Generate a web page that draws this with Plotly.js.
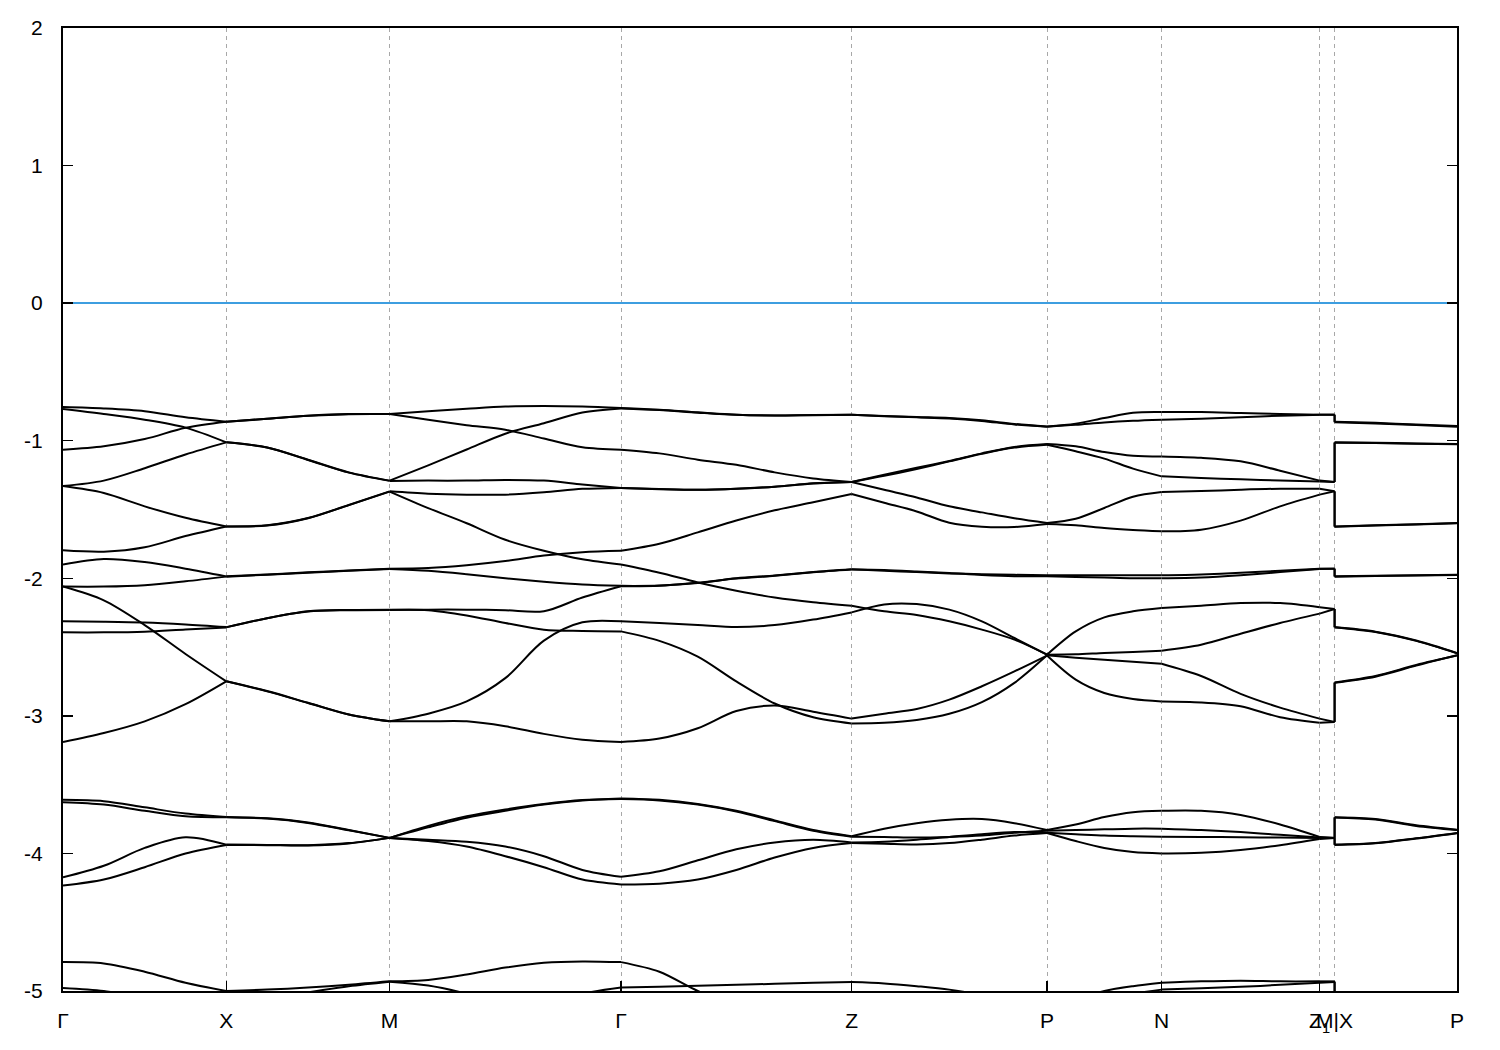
<!DOCTYPE html>
<html>
<head>
<meta charset="utf-8">
<script src="https://cdn.plot.ly/plotly-3.0.1.min.js"></script>
<style>html,body{margin:0;padding:0;background:#fff;}</style>
</head>
<body>
<div id="chart" style="width:1500px;height:1050px;"></div>
<script>
// k-path sampling (path length units); index 35 = M, index 36 = X (discontinuity M|X)
const kGrid = [0.000, 0.408, 0.817, 1.225, 1.633, 2.041, 2.450, 2.858, 3.266, 3.652,
  4.037, 4.423, 4.809, 5.194, 5.580, 5.964, 6.348, 6.733, 7.117, 7.502,
  7.886, 8.212, 8.537, 8.863, 9.189, 9.514, 9.840, 10.127, 10.413, 10.700,
  10.986, 11.381, 11.776, 12.171, 12.566, 12.716, 12.716, 13.124, 13.532, 13.940];
// segment boundaries (indices into kGrid)
const segBounds = [0, 4, 8, 14, 20, 26, 30, 34, 35, 36, 39];

const kTicks = [0.000, 1.633, 3.266, 5.580, 7.886, 9.840, 10.986, 12.566, 12.716, 13.940];
const kLabels = ['Γ', 'X', 'M', 'Γ', 'Z', 'P', 'N', 'Z<sub>1</sub>', 'M|X', 'P'];
const eTicks = [-5, -4, -3, -2, -1, 0, 1, 2];
const eTickText = ['-5', '-4', '-3', '-2', '-1', '0', '1', '2'];

// band energies (eV) at each kGrid point
const band01 = [-0.755,-0.765,-0.785,-0.830,-0.862, -0.840,-0.818,-0.806,-0.806,
  -0.786,-0.768,-0.752,-0.748,-0.752,-0.762, -0.775,-0.794,-0.811,-0.816,-0.813,-0.811,
  -0.820,-0.828,-0.835,-0.852,-0.878,-0.896, -0.876,-0.835,-0.797,-0.792,
  -0.792,-0.799,-0.806,-0.811, -0.811, -0.862,-0.870,-0.882,-0.893];
const band02 = [-0.770,-0.806,-0.847,-0.905,-1.012, -1.049,-1.138,-1.230,-1.290,
  -1.179,-1.064,-0.949,-0.873,-0.795,-0.765, -0.777,-0.796,-0.812,-0.817,-0.814,-0.812,
  -0.822,-0.830,-0.838,-0.856,-0.882,-0.898, -0.884,-0.867,-0.855,-0.847,
  -0.840,-0.830,-0.818,-0.811, -0.811, -0.866,-0.874,-0.886,-0.898];
const band03 = [-1.065,-1.040,-0.988,-0.906,-0.862, -0.841,-0.819,-0.807,-0.806,
  -0.848,-0.887,-0.920,-0.984,-1.048,-1.065, -1.092,-1.138,-1.175,-1.230,-1.274,-1.300,
  -1.248,-1.197,-1.147,-1.092,-1.045,-1.024, -1.041,-1.082,-1.109,-1.114,
  -1.124,-1.150,-1.218,-1.290, -1.300, -1.012,-1.015,-1.020,-1.024];
const band04 = [-1.330,-1.290,-1.200,-1.100,-1.012, -1.050,-1.140,-1.232,-1.292,
  -1.290,-1.290,-1.285,-1.290,-1.318,-1.343, -1.351,-1.356,-1.349,-1.334,-1.310,-1.300,
  -1.255,-1.205,-1.150,-1.095,-1.050,-1.030, -1.077,-1.130,-1.203,-1.259,
  -1.271,-1.281,-1.289,-1.296, -1.300, -1.014,-1.017,-1.022,-1.026];
const band05 = [-1.330,-1.380,-1.477,-1.560,-1.623, -1.615,-1.562,-1.467,-1.368,
  -1.385,-1.392,-1.392,-1.375,-1.350,-1.343, -1.352,-1.357,-1.350,-1.335,-1.311,-1.300,
  -1.357,-1.413,-1.477,-1.521,-1.564,-1.598, -1.567,-1.489,-1.407,-1.373,
  -1.366,-1.356,-1.349,-1.349, -1.368, -1.623,-1.615,-1.607,-1.598];
const band06 = [-1.797,-1.807,-1.775,-1.693,-1.623, -1.617,-1.564,-1.468,-1.370,
  -1.490,-1.600,-1.720,-1.800,-1.862,-1.900, -1.960,-2.030,-2.090,-2.140,-2.175,-2.200,
  -2.240,-2.267,-2.313,-2.373,-2.446,-2.555, -2.553,-2.543,-2.536,-2.526,
  -2.483,-2.403,-2.325,-2.257, -2.223, -2.357,-2.390,-2.455,-2.545];
const band07 = [-1.900,-1.860,-1.882,-1.930,-1.986, -1.972,-1.957,-1.943,-1.930,
  -1.925,-1.905,-1.875,-1.835,-1.810,-1.800, -1.749,-1.666,-1.580,-1.506,-1.447,-1.387,
  -1.451,-1.514,-1.596,-1.625,-1.627,-1.605, -1.615,-1.635,-1.649,-1.659,
  -1.647,-1.581,-1.477,-1.392, -1.368, -1.625,-1.617,-1.609,-1.600];
const band08 = [-2.060,-2.060,-2.050,-2.022,-1.988, -1.974,-1.960,-1.945,-1.932,
  -1.945,-1.970,-2.000,-2.025,-2.045,-2.055, -2.053,-2.035,-2.000,-1.980,-1.955,-1.935,
  -1.945,-1.955,-1.965,-1.970,-1.975,-1.978, -1.978,-1.978,-1.978,-1.978,
  -1.972,-1.960,-1.945,-1.930, -1.930, -1.986,-1.982,-1.978,-1.974];
const band09 = [-2.313,-2.316,-2.322,-2.336,-2.355, -2.290,-2.240,-2.230,-2.228,
  -2.228,-2.228,-2.232,-2.240,-2.140,-2.058, -2.055,-2.032,-2.002,-1.982,-1.957,-1.937,
  -1.940,-1.950,-1.962,-1.976,-1.985,-1.985, -1.990,-1.995,-2.000,-2.000,
  -1.995,-1.978,-1.955,-1.932, -1.930, -1.988,-1.984,-1.980,-1.976];
const band10 = [-2.393,-2.393,-2.388,-2.372,-2.357, -2.290,-2.242,-2.232,-2.230,
  -2.232,-2.270,-2.325,-2.374,-2.383,-2.386, -2.455,-2.570,-2.750,-2.910,-3.010,-3.055,
  -3.050,-3.030,-2.985,-2.900,-2.760,-2.560, -2.577,-2.592,-2.606,-2.621,
  -2.710,-2.840,-2.940,-3.020, -3.044, -2.757,-2.710,-2.630,-2.562];
const band11 = [-2.060,-2.160,-2.340,-2.550,-2.749, -2.822,-2.906,-2.990,-3.040,
  -2.984,-2.895,-2.726,-2.453,-2.320,-2.313, -2.325,-2.340,-2.355,-2.340,-2.300,-2.248,
  -2.190,-2.187,-2.228,-2.313,-2.434,-2.555, -2.386,-2.284,-2.240,-2.216,
  -2.199,-2.180,-2.180,-2.210, -2.223, -2.355,-2.388,-2.452,-2.543];
const band12 = [-3.190,-3.125,-3.040,-2.915,-2.749, -2.820,-2.905,-2.990,-3.040,
  -3.040,-3.040,-3.076,-3.131,-3.173,-3.190, -3.165,-3.090,-2.965,-2.925,-2.970,-3.020,
  -2.984,-2.950,-2.882,-2.785,-2.677,-2.562, -2.737,-2.834,-2.877,-2.895,
  -2.902,-2.930,-3.010,-3.050, -3.044, -2.759,-2.715,-2.635,-2.560];
const band13 = [-3.610,-3.620,-3.665,-3.710,-3.735, -3.745,-3.775,-3.830,-3.887,
  -3.810,-3.740,-3.690,-3.645,-3.615,-3.600, -3.610,-3.640,-3.690,-3.760,-3.830,-3.875,
  -3.820,-3.780,-3.755,-3.750,-3.780,-3.830, -3.790,-3.735,-3.700,-3.690,
  -3.690,-3.720,-3.790,-3.880, -3.887, -3.737,-3.750,-3.795,-3.827];
const band14 = [-3.628,-3.645,-3.690,-3.730,-3.737, -3.747,-3.778,-3.832,-3.887,
  -3.800,-3.730,-3.680,-3.640,-3.612,-3.605, -3.615,-3.645,-3.695,-3.765,-3.835,-3.878,
  -3.880,-3.885,-3.880,-3.870,-3.850,-3.835, -3.830,-3.825,-3.820,-3.820,
  -3.830,-3.845,-3.865,-3.885, -3.887, -3.739,-3.754,-3.800,-3.830];
const band15 = [-4.174,-4.090,-3.960,-3.882,-3.936, -3.938,-3.940,-3.925,-3.887,
  -3.900,-3.915,-3.950,-4.020,-4.120,-4.170, -4.130,-4.050,-3.970,-3.920,-3.900,-3.920,
  -3.915,-3.900,-3.880,-3.860,-3.845,-3.850, -3.860,-3.870,-3.875,-3.878,
  -3.880,-3.882,-3.885,-3.887, -3.887, -3.936,-3.924,-3.890,-3.851];
const band16 = [-4.234,-4.190,-4.100,-4.000,-3.938, -3.940,-3.942,-3.927,-3.887,
  -3.910,-3.950,-4.020,-4.100,-4.190,-4.225, -4.220,-4.190,-4.120,-4.030,-3.960,-3.925,
  -3.930,-3.935,-3.925,-3.900,-3.870,-3.852, -3.910,-3.960,-3.990,-4.000,
  -3.995,-3.975,-3.940,-3.895, -3.887, -3.938,-3.926,-3.892,-3.853];
const band17 = [-4.790,-4.800,-4.860,-4.940,-5.000, -4.990,-4.975,-4.955,-4.930,
  -4.920,-4.880,-4.830,-4.795,-4.785,-4.790, -4.860,-5.000,-5.100,-5.150,-5.150,-5.150,
  -5.150,-5.150,-5.150,-5.150,-5.120,-5.100, -5.060,-5.000,-4.965,-4.940,
  -4.930,-4.925,-4.930,-4.930, -4.930, -5.200,-5.200,-5.200,-5.200];
const band18 = [-4.978,-5.000,-5.050,-5.080,-5.100, -5.060,-5.010,-4.965,-4.932,
  -4.960,-5.020,-5.100,-5.100,-5.020,-4.975, -4.970,-4.962,-4.955,-4.948,-4.940,-4.935,
  -4.945,-4.965,-4.990,-5.030,-5.080,-5.100, -5.100,-5.060,-5.020,-4.990,
  -4.980,-4.970,-4.955,-4.940, -4.935, -5.200,-5.200,-5.200,-5.200];

const bands = [band01, band02, band03, band04, band05, band06, band07, band08, band09,
  band10, band11, band12, band13, band14, band15, band16, band17, band18];

const traces = bands.map(function (e) {
  const xs = [], ys = [];
  for (let s = 0; s < segBounds.length - 1; s++) {
    for (let i = segBounds[s]; i <= segBounds[s + 1]; i++) { xs.push(kGrid[i]); ys.push(e[i]); }
    xs.push(null); ys.push(null);
  }
  return {
    type: 'scatter', mode: 'lines', x: xs, y: ys, connectgaps: false,
    line: { color: '#000000', width: 2, shape: 'spline', smoothing: 0.9 },
    hoverinfo: 'skip', showlegend: false
  };
});

const layout = {
  width: 1500, height: 1050,
  paper_bgcolor: '#ffffff', plot_bgcolor: '#ffffff',
  margin: { l: 63, r: 43, t: 28, b: 59, pad: 0 },
  showlegend: false,
  font: { family: 'Liberation Sans, Arial, sans-serif', size: 21, color: '#000000' },
  xaxis: {
    range: [kTicks[0], kTicks[kTicks.length - 1]],
    tickmode: 'array', tickvals: kTicks, ticktext: kLabels, tickangle: 0,
    ticks: 'inside', ticklen: 10, tickwidth: 1.5, tickcolor: '#000000',
    showline: true, linecolor: '#000000', linewidth: 2, mirror: true,
    showgrid: true, gridcolor: '#a8a8a8', gridwidth: 1, griddash: '4px,4px',
    zeroline: false, ticklabelstandoff: 10,
    tickfont: { family: 'Liberation Sans, Arial, sans-serif', size: 21, color: '#000000' }
  },
  yaxis: {
    range: [-5, 2],
    tickmode: 'array', tickvals: eTicks, ticktext: eTickText,
    ticks: 'inside', ticklen: 10, tickwidth: 1.5, tickcolor: '#000000',
    showline: true, linecolor: '#000000', linewidth: 2, mirror: 'ticks',
    showgrid: false,
    zeroline: true, zerolinecolor: '#3d9ee0', zerolinewidth: 1.5,
    ticklabelstandoff: 14,
    tickfont: { family: 'Liberation Sans, Arial, sans-serif', size: 21, color: '#000000' }
  }
};

Plotly.newPlot('chart', traces, layout, { staticPlot: true, displayModeBar: false });
</script>
</body>
</html>
